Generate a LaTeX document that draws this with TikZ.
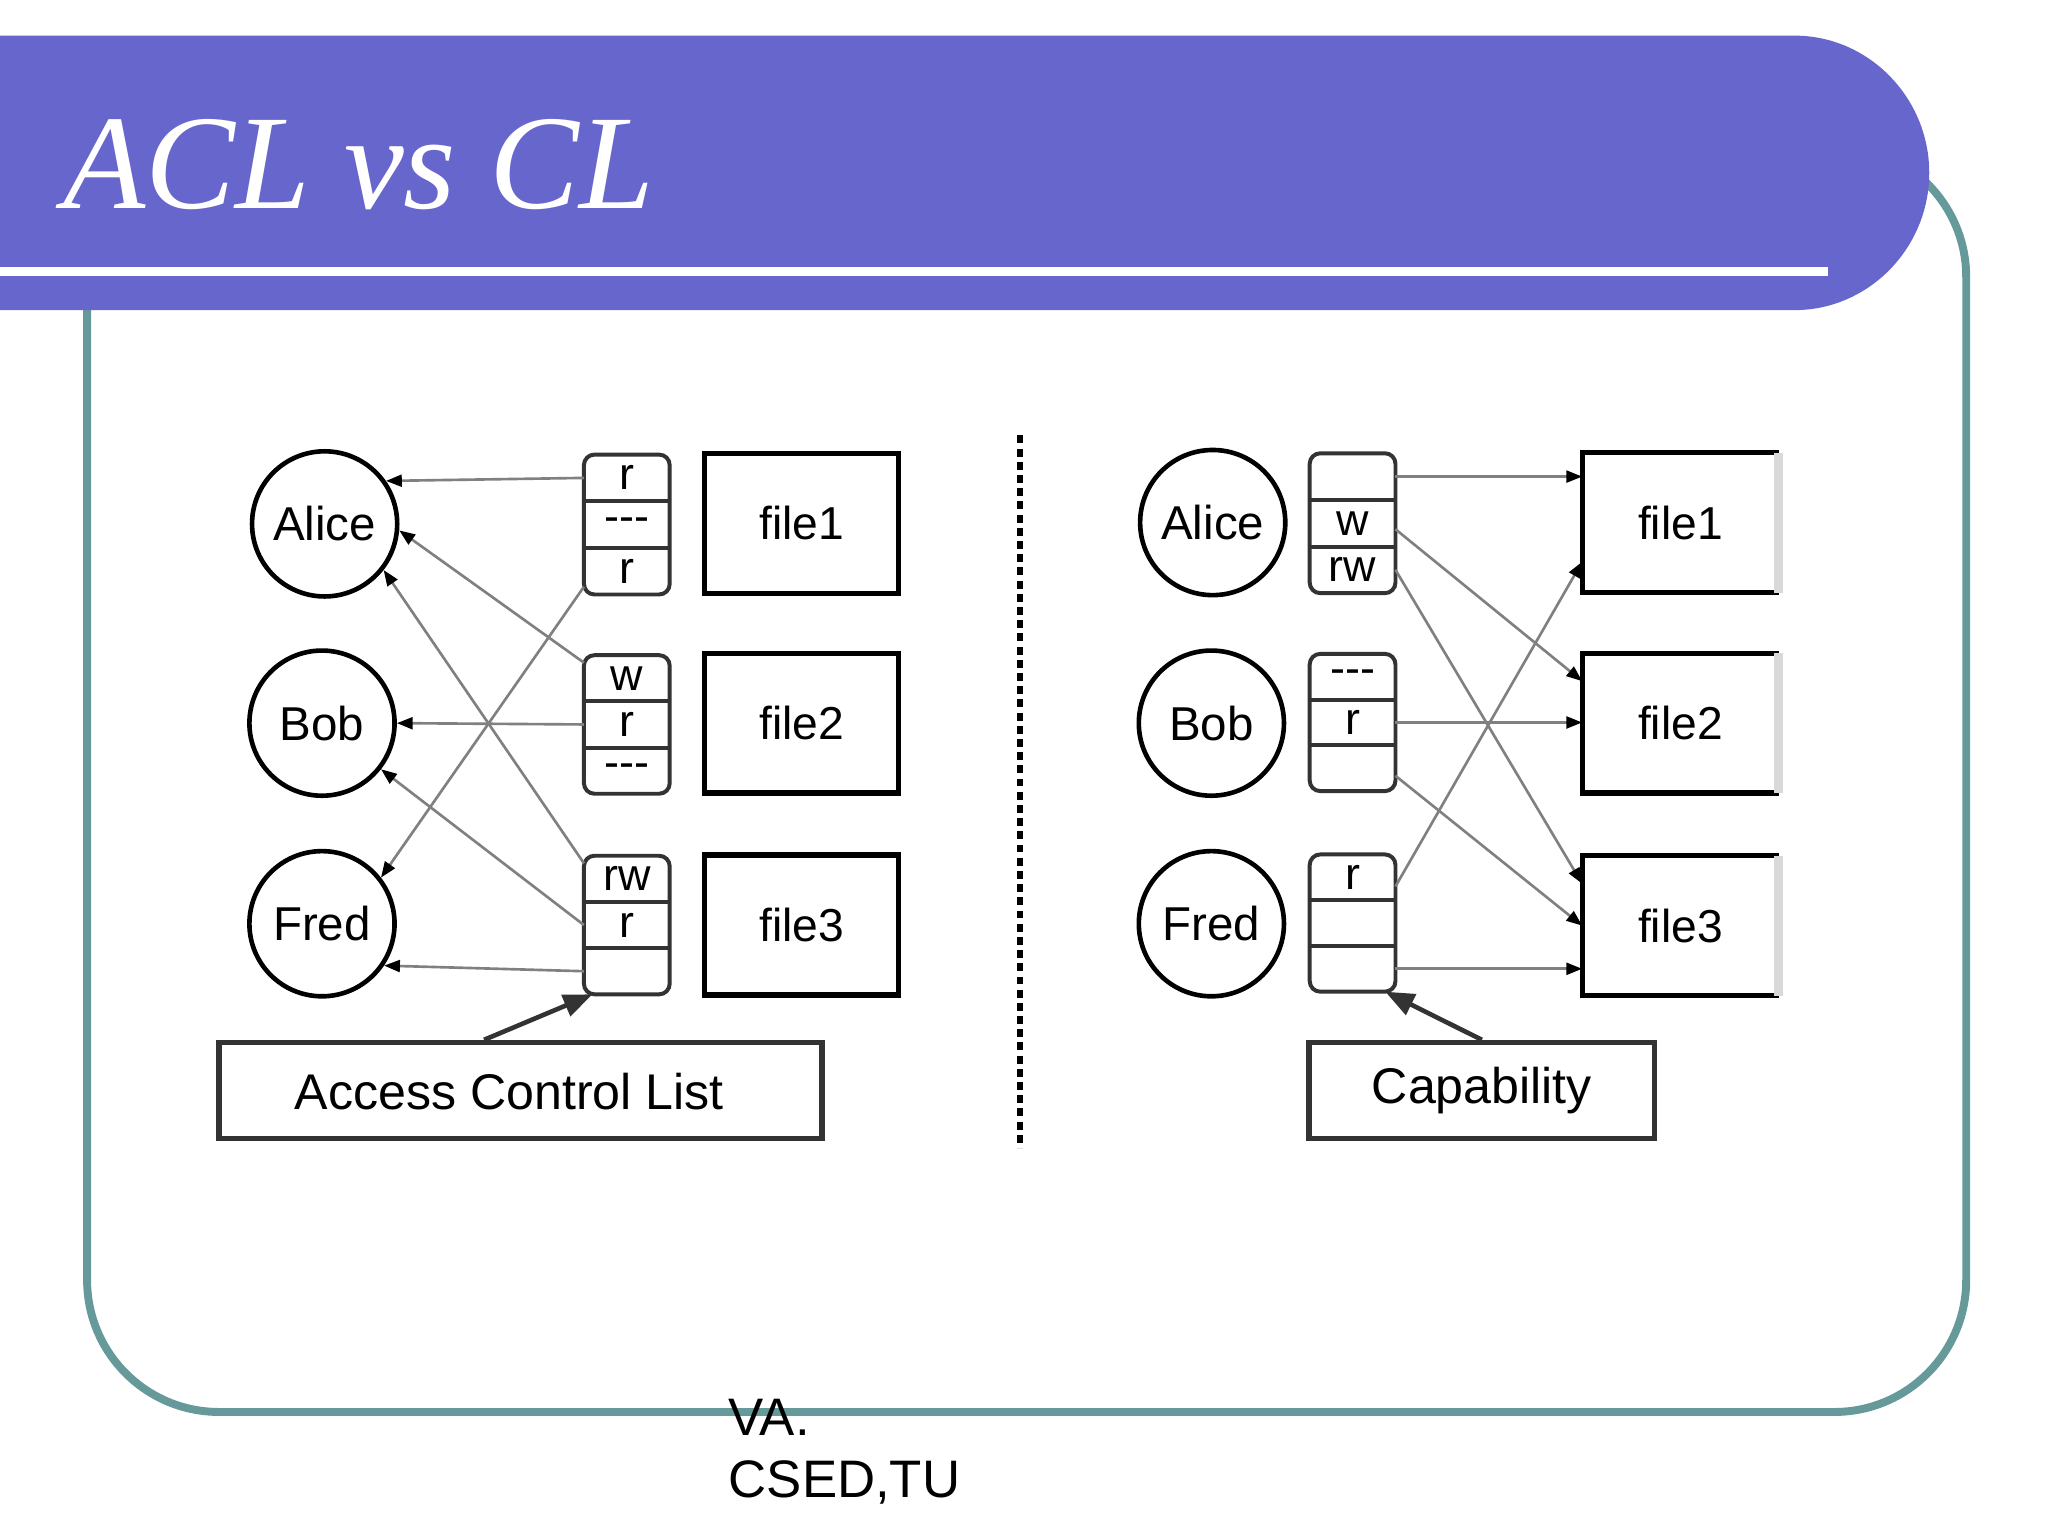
\documentclass[tikz,border=0pt]{standalone}
\usepackage{fontspec}
\setmainfont{Liberation Sans}
\newfontfamily\titlefont{Liberation Serif}
\usetikzlibrary{arrows.meta,fit,calc}
\definecolor{bandcol}{HTML}{6666CC}
\definecolor{framecol}{HTML}{669999}
\definecolor{arrgray}{HTML}{808080}
\definecolor{boxdark}{HTML}{333333}
\definecolor{edgegray}{HTML}{D9D9D9}
\newcommand{\dsh}{-\kern0pt-\kern0pt-}
\newcommand{\cellstack}[7]{%
  \pgfmathsetmacro{\stkh}{#4/3}%
  \node[cellnode, minimum height=\stkh pt] (#1a) at (#2, {#3+\stkh/2}) {#5};
  \node[cellnode, minimum height=\stkh pt] (#1b) at (#2, {#3+1.5*\stkh}) {#6};
  \node[cellnode, minimum height=\stkh pt] (#1c) at (#2, {#3+2.5*\stkh}) {#7};
  \node[stackbox, fit=(#1a)(#1b)(#1c)] (#1) {};
  \draw[stackline] (#1a.south west) -- (#1a.south east);
  \draw[stackline] (#1b.south west) -- (#1b.south east);
}
\begin{document}
\begin{tikzpicture}[x=1pt,y=-1pt,
  person/.style={circle,draw=black,line width=3.5pt,minimum size=110pt,inner sep=0pt,font=\fontsize{36}{40}\selectfont},
  filebox/.style={rectangle,draw=black,line width=4pt,minimum width=147pt,minimum height=106pt,inner sep=0pt,font=\fontsize{35}{40}\selectfont},
  openfile/.style={rectangle,draw=none,outer sep=0pt,minimum width=149pt,minimum height=106pt,inner sep=0pt,font=\fontsize{35}{40}\selectfont},
  cellnode/.style={rectangle,minimum width=65pt,inner sep=0pt,outer sep=0pt,font=\fontsize{34}{36}\selectfont},
  stackbox/.style={draw=boxdark,line width=3pt,rounded corners=8pt,inner sep=0pt},
  stackline/.style={draw=boxdark,line width=3pt},
  labelbox/.style={rectangle,draw=boxdark,line width=4pt,fill=white,minimum height=73pt,inner sep=0pt,font=\fontsize{38}{42}\selectfont},
  labeltext/.style={inner sep=0pt,font=\fontsize{38}{42}\selectfont},
  acc/.style={draw=arrgray,line width=2pt,-{Triangle[length=12pt,width=9pt,color=black]}},
  bigarr/.style={draw=boxdark,line width=3.5pt,-{Triangle[length=22pt,width=17pt]}},
  footer/.style={anchor=base west,inner sep=0pt,font=\fontsize{40}{47}\selectfont}
]
\useasboundingbox (0,0) rectangle (1552,1164);
\fill[white] (0,0) rectangle (1552,1164);

% frame
\draw[framecol, line width=6pt, rounded corners=100pt] (66,110) rectangle (1490,1070);

% title band
\fill[bandcol] (0,27) -- (1360,27) .. controls (1416,27) and (1462,74) .. (1462,131)
  .. controls (1462,188) and (1416,235) .. (1360,235) -- (0,235) -- cycle;
\draw[white, line width=7pt] (0,206) -- (1385,206);
\node[anchor=base west, text=white, inner sep=0pt,
  font=\titlefont\itshape\fontsize{102}{110}\selectfont] (title) at (48,158) {ACL vs CL};

% ---------- left side (ACL) ----------
\node[person] (la) at (246,397) {Alice};
\node[person] (lb) at (244,548) {Bob};
\node[person] (lf) at (244,700) {Fred};

\cellstack{l1}{475}{344.5}{106}{r}{\dsh}{r}
\cellstack{l2}{475}{496.5}{105}{w}{r}{\dsh}
\cellstack{l3}{475}{648.5}{105}{rw}{r}{}

\node[filebox] (lf1) at (607.5,396.5) {file1};
\node[filebox] (lf2) at (607.5,548) {file2};
\node[filebox] (lf3) at (607.5,701) {file3};

\draw[acc] (l1a.west) -- (la.35);
\draw[acc] (l1c.200) -- (lf.38);
\draw[acc] (l2a.160) -- (la.-5);
\draw[acc] (l2b.west) -- (lb.0);
\draw[acc] (l3a.160) -- (la.-38);
\draw[acc] (l3b.west) -- (lb.-38);
\draw[acc] (l3c.west) -- (lf.-34);

\node[labelbox, minimum width=457pt] (acl) at (394.5,826.5) {};
\node[labeltext] (acltext) at (386,827) {Access Control List};
\draw[bigarr] ($(acl.north west)!0.44!(acl.north east)$) -- ($(l3c.south west)!0.1!(l3c.south east)$);

% divider
\draw[line width=5pt, dash pattern=on 6pt off 4pt] (773,330) -- (773,870);

% ---------- right side (capability) ----------
\node[person] (ra) at (919,396) {Alice};
\node[person] (rb) at (918,548) {Bob};
\node[person] (rf) at (918,700) {Fred};

\cellstack{r1}{1025}{343.5}{106}{}{w}{rw}
\cellstack{r2}{1025}{495.5}{104}{\dsh}{r}{}
\cellstack{r3}{1025}{647.5}{104}{r}{}{}

\foreach \n/\y/\t in {rf1/396/file1, rf2/548/file2, rf3/701.5/file3}{
  \node[openfile] (\n) at (1273.5,\y) {\t};
  \draw[black, line width=4pt] (\n.north east) -- (\n.north west) -- (\n.south west) -- (\n.south east);
  \draw[edgegray, line width=7pt] (\n.north east) -- (\n.south east);
}

\draw[acc] (r1a.east) -- (r1a.east -| rf1.west);
\draw[acc] (r1b.-8) -- ($(rf2.north west)!0.2!(rf2.south west)$);
\draw[acc] (r1c.east) -- ($(rf3.north west)!0.2!(rf3.south west)$);
\draw[acc] (r2b.east) -- (r2b.east -| rf2.west);
\draw[acc] (r2c.-10) -- ($(rf3.north west)!0.5!(rf3.south west)$);
\draw[acc] (r3a.-12) -- ($(rf1.north west)!0.78!(rf1.south west)$);
\draw[acc] (r3c.east) -- (r3c.east -| rf3.west);

\node[labelbox, minimum width=262pt] (cap) at (1123,826.5) {Capability};
\draw[bigarr] (cap.north) -- ($(r3c.south west)!0.88!(r3c.south east)$);

% footer
\node[footer] (foot1) at (552,1088) {VA.};
\node[footer] (foot2) at (552,1135) {CSED,TU};
\end{tikzpicture}
\end{document}
